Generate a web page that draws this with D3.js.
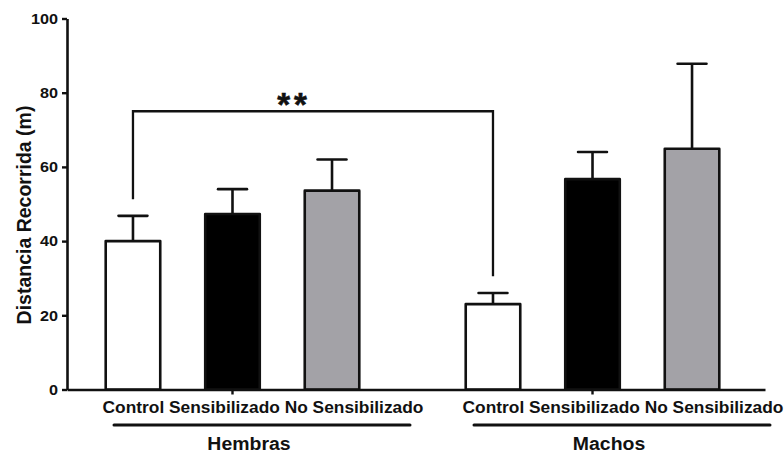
<!DOCTYPE html>
<html>
<head>
<meta charset="utf-8">
<script src="https://cdn.jsdelivr.net/npm/d3@7"></script>
<style>
  body { margin: 0; background: #fff; }
  svg { display: block; }
  text { font-family: "Liberation Sans", Arial, Helvetica, sans-serif; font-weight: bold; fill: #111; }
</style>
</head>
<body>
<svg id="chart" width="784" height="453"></svg>
<script>
// Groups (sex) and conditions within each group
const groups = ["Hembras", "Machos"];
const conditions = ["Control", "Sensibilizado", "No Sensibilizado"];

// Mean distance travelled (m) and error (SEM) per condition
const hembrasMean = [40.0, 47.3, 53.6];
const hembrasErr  = [6.8, 6.7, 8.4];
const machosMean  = [23.0, 56.7, 64.9];
const machosErr   = [3.0, 7.3, 22.9];

// Axis
const yTicks = [0, 20, 40, 60, 80, 100];
const yTitle = "Distancia Recorrida (m)";

// Significance bracket between the two control groups
const sigLabel = "**";
const sigTop = 75;

const conditionFills = ["#ffffff", "#000000", "#a3a2a7"];

const svg = d3.select("#chart");
const ink = "#111";

const y = d3.scaleLinear().domain([0, 100]).range([389.5, 18.5]);

const x0 = d3.scaleBand().domain(groups).range([67, 765])
  .paddingInner(0.2).paddingOuter(0.0694).align(0.43);
const x1 = d3.scaleBand().domain(conditions).range([0, x0.bandwidth()])
  .paddingInner(0.452).paddingOuter(0.173);

const rows = [];
groups.forEach((g, gi) => {
  const means = gi === 0 ? hembrasMean : machosMean;
  const errs = gi === 0 ? hembrasErr : machosErr;
  conditions.forEach((c, ci) => rows.push({ group: g, cond: c, ci, mean: means[ci], err: errs[ci] }));
});
const cx = d => x0(d.group) + x1(d.cond) + x1.bandwidth() / 2;

// widen text horizontally by factor k
function stretch(sel, k) {
  sel.each(function () {
    const w = this.getComputedTextLength();
    this.setAttribute("textLength", w * k);
    this.setAttribute("lengthAdjust", "spacingAndGlyphs");
  });
}

// Error bars (drawn first so bar outlines sit on top)
const capHalf = x1.bandwidth() * 0.265;
const eb = svg.append("g").attr("stroke", ink).attr("stroke-width", 2.6).attr("fill", "none");
eb.selectAll("line.v").data(rows).join("line").attr("class", "v")
  .attr("x1", cx).attr("x2", cx)
  .attr("y1", d => y(d.mean)).attr("y2", d => y(d.mean + d.err));
eb.selectAll("line.c").data(rows).join("line").attr("class", "c")
  .attr("x1", d => cx(d) - capHalf).attr("x2", d => cx(d) + capHalf)
  .attr("y1", d => y(d.mean + d.err)).attr("y2", d => y(d.mean + d.err))
  .attr("stroke-linecap", "round");

// Bars
svg.append("g").selectAll("rect").data(rows).join("rect")
  .attr("x", d => x0(d.group) + x1(d.cond))
  .attr("width", x1.bandwidth())
  .attr("y", d => y(d.mean))
  .attr("height", d => y(0) - y(d.mean))
  .attr("fill", d => conditionFills[d.ci])
  .attr("stroke", ink).attr("stroke-width", 2.6).attr("stroke-linejoin", "round");

// Y axis
const yAxis = svg.append("g").attr("transform", "translate(67,0)")
  .call(d3.axisLeft(y).tickValues(yTicks).tickSize(5).tickSizeOuter(0).tickPadding(4));
yAxis.select(".domain").attr("stroke", ink).attr("stroke-width", 2.6);
yAxis.selectAll(".tick line").attr("stroke", ink).attr("stroke-width", 2.4);
yAxis.selectAll(".tick text").attr("font-size", 15).attr("fill", ink)
  .attr("font-family", null).call(stretch, 1.08);

// X axis
const xAxis = svg.append("g").attr("transform", `translate(0,${y(0)})`)
  .call(d3.axisBottom(x0).tickSize(5).tickSizeOuter(0).tickFormat(""));
xAxis.select(".domain").attr("stroke", ink).attr("stroke-width", 2.6);
xAxis.selectAll(".tick line").attr("stroke", ink).attr("stroke-width", 2.4);

// Y title
svg.append("text")
  .attr("transform", `translate(31,${(y(0) + y(100)) / 2 + 11}) rotate(-90)`)
  .attr("text-anchor", "middle").attr("font-size", 19.5)
  .text(yTitle);

// Condition labels, underline and group name under each group
groups.forEach(g => {
  const c = x0(g) + x0.bandwidth() / 2;
  svg.append("text").attr("x", c + 30.5).attr("y", 413)
    .attr("text-anchor", "middle").attr("font-size", 17)
    .text(conditions.join(" ")).call(stretch, 1.02);
  svg.append("line")
    .attr("x1", c - 118.5).attr("x2", c + 177.5)
    .attr("y1", 425).attr("y2", 425)
    .attr("stroke", ink).attr("stroke-width", 3).attr("stroke-linecap", "round");
  svg.append("text").attr("x", c + 16.5).attr("y", 449.5)
    .attr("text-anchor", "middle").attr("font-size", 18)
    .text(g).call(stretch, 1.08);
});

// Significance bracket
const left = rows.find(d => d.group === groups[0] && d.cond === conditions[0]);
const right = rows.find(d => d.group === groups[1] && d.cond === conditions[0]);
const gap = 4.5;
svg.append("path")
  .attr("d", d3.line()([
    [cx(left), y(left.mean + left.err + gap)],
    [cx(left), y(sigTop)],
    [cx(right), y(sigTop)],
    [cx(right), y(right.mean + right.err + gap)]
  ]))
  .attr("fill", "none").attr("stroke", ink).attr("stroke-width", 2.3);
const stars = svg.append("text")
  .attr("x", 0).attr("y", y(sigTop) + 4.5)
  .attr("font-size", 33).attr("letter-spacing", 4)
  .attr("stroke", ink).attr("stroke-width", 0.6)
  .text(sigLabel);
// centre the ink of the stars over the bracket, slightly left of its midpoint
const sb = stars.node().getBBox();
const starCenter = (cx(left) + cx(right)) / 2 - 21;
stars.attr("x", starCenter - (sb.width - 4) / 2);
</script>
</body>
</html>
